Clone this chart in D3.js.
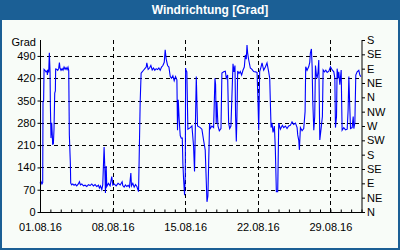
<!DOCTYPE html>
<html>
<head>
<meta charset="utf-8">
<script src="https://cdn.jsdelivr.net/npm/d3@7"></script>
<style>
  body { margin: 0; background: #fff; }
  svg text { font-family: "Liberation Sans", Arial, sans-serif; }
</style>
</head>
<body>
<script>
// decimal days after 01.08.16 00:00 and wind direction in degrees
const days = [
  0.00, 0.10, 0.19, 0.26, 0.29, 0.35, 0.39, 0.48, 0.58, 0.68, 0.71, 0.77, 0.84, 0.90, 0.97,
  1.00, 1.06, 1.13, 1.19, 1.22, 1.29, 1.35, 1.42, 1.48, 1.51, 1.61, 1.71, 1.80, 1.87, 1.93,
  2.03, 2.13, 2.22, 2.32, 2.42, 2.51, 2.61, 2.70, 2.77, 2.83, 2.93, 2.96, 3.06, 3.16, 3.28,
  3.41, 3.54, 3.70, 3.80, 3.90, 4.03, 4.19, 4.35, 4.51, 4.67, 4.83, 4.99, 5.15, 5.31, 5.47,
  5.64, 5.73, 5.83, 5.96, 6.05, 6.18, 6.25, 6.31, 6.38, 6.44, 6.60, 6.76, 6.92, 7.02, 7.15,
  7.34, 7.53, 7.73, 7.92, 7.98, 8.11, 8.24, 8.37, 8.50, 8.63, 8.76, 8.82, 8.95, 9.08, 9.21,
  9.34, 9.50, 9.56, 9.66, 9.75, 9.85, 9.98, 10.11, 10.24, 10.30, 10.43, 10.56, 10.69, 10.82,
  10.95, 11.07, 11.20, 11.33, 11.46, 11.59, 11.72, 11.85, 11.98, 12.07, 12.17, 12.30, 12.43,
  12.56, 12.68, 12.81, 12.94, 13.07, 13.20, 13.26, 13.33, 13.42, 13.52, 13.62, 13.72, 13.78,
  13.84, 13.94, 14.01, 14.04, 14.07, 14.16, 14.26, 14.49, 14.65, 14.81, 14.90, 15.07, 15.19,
  15.45, 15.61, 15.77, 15.93, 16.10, 16.19, 16.26, 16.35, 16.42, 16.58, 16.74, 16.87, 16.93,
  16.99, 17.06, 17.16, 17.29, 17.45, 17.54, 17.71, 17.87, 17.96, 18.09, 18.19, 18.29, 18.41,
  18.61, 18.70, 18.80, 18.86, 18.93, 18.99, 19.06, 19.19, 19.31, 19.44, 19.57, 19.70, 19.80,
  19.89, 19.96, 20.02, 20.12, 20.28, 20.44, 20.60, 20.77, 20.93, 21.02, 21.09, 21.18, 21.31,
  21.41, 21.57, 21.73, 21.89, 22.05, 22.15, 22.21, 22.28, 22.37, 22.47, 22.60, 22.69, 22.79,
  22.92, 23.02, 23.18, 23.37, 23.50, 23.66, 23.82, 23.98, 24.14, 24.30, 24.46, 24.63, 24.79,
  24.85, 24.95, 25.01, 25.11, 25.27, 25.43, 25.56, 25.62, 25.75, 25.91, 26.01, 26.07, 26.17,
  26.24, 26.30, 26.40, 26.49, 26.56, 26.65, 26.72, 26.81, 26.88, 26.98, 27.11, 27.23, 27.30,
  27.43, 27.56, 27.69, 27.85, 28.01, 28.17, 28.33, 28.43, 28.49, 28.59, 28.65, 28.75, 28.81,
  28.91, 29.04, 29.13, 29.29, 29.46, 29.62, 29.71, 29.78, 29.87, 29.94, 30.10, 30.20, 30.26,
  30.36, 30.45, 30.58, 30.74, 30.84, 30.94
];
const deg = [
  90, 95, 88, 92, 346, 350, 448, 445, 440, 443, 430, 447, 438, 500, 440,
  336, 232, 280, 240, 213, 214, 260, 373, 380, 449, 448, 445, 450, 469, 452,
  445, 450, 445, 455, 448, 453, 447, 455, 445, 242, 150, 91, 85, 88, 84,
  87, 82, 88, 95, 85, 88, 82, 84, 80, 86, 83, 88, 82, 86, 80,
  84, 75, 82, 70, 85, 204, 140, 60, 144, 80, 90, 82, 111, 85, 88,
  82, 90, 85, 95, 83, 78, 85, 80, 84, 78, 122, 82, 90, 78, 86,
  80, 64, 163, 346, 436, 440, 445, 450, 455, 468, 448, 452, 460, 446,
  452, 445, 450, 447, 452, 445, 455, 460, 470, 509, 480, 460, 455,
  425, 420, 428, 412, 425, 415, 257, 352, 290, 240, 232, 232, 150,
  107, 53, 120, 452, 446, 440, 260, 265, 270, 205, 127, 425, 270,
  265, 260, 226, 195, 32, 50, 148, 279, 262, 270, 265, 420, 400,
  279, 346, 270, 255, 262, 436, 440, 442, 420, 430, 279, 262, 270,
  465, 440, 460, 300, 221, 300, 443, 435, 441, 430, 445, 455, 493,
  480, 524, 500, 478, 452, 448, 441, 440, 438, 346, 257, 441, 455,
  468, 445, 455, 468, 440, 420, 346, 265, 280, 250, 270, 200, 64,
  64, 279, 260, 272, 265, 270, 262, 270, 272, 283, 275, 279, 265,
  242, 225, 195, 265, 255, 262, 315, 456, 445, 456, 470, 499, 512,
  456, 350, 257, 300, 460, 430, 420, 440, 477, 226, 264, 300, 446,
  440, 445, 438, 442, 456, 446, 440, 420, 265, 300, 450, 420, 440,
  400, 446, 257, 265, 258, 260, 320, 425, 330, 262, 265, 300, 262,
  280, 430, 440, 445, 430, 425
];
const gradTicks = [0, 70, 140, 210, 280, 350, 420, 490];
const compassLabels = ["N", "NE", "E", "SE", "S", "SW", "W", "NW", "N", "NE", "E", "SE", "S"];
const dateLabels = ["01.08.16", "08.08.16", "15.08.16", "22.08.16", "29.08.16"];

const W = 400, H = 250;
const plotL = 40, plotR = 361.5, plotT = 40, plotB = 212;
const start = new Date(2016, 7, 1), end = new Date(2016, 8, 1);
const parse = d3.timeParse("%d.%m.%y");
const fmt = d3.timeFormat("%d.%m.%y");

const svg = d3.select("body").append("svg")
  .attr("width", W)
  .attr("height", H);

// frame with title bar
svg.append("rect").attr("width", W).attr("height", H).attr("fill", "#1b5f95");
svg.append("rect")
  .attr("x", 2).attr("y", 20)
  .attr("width", W - 4).attr("height", H - 22)
  .attr("fill", "#f8fcf8");
svg.append("text")
  .attr("x", 210).attr("y", 14)
  .attr("text-anchor", "middle")
  .attr("fill", "#fff")
  .attr("font-size", 12)
  .attr("font-weight", "bold")
  .text("Windrichtung [Grad]");

const x = d3.scaleTime().domain([start, end]).range([plotL, plotR]);
const y = d3.scaleLinear().domain([0, 540]).range([plotB, plotT]);

// dashed grid
svg.append("g").selectAll("line")
  .data(gradTicks.slice(1))
  .join("line")
  .attr("x1", plotL).attr("x2", plotR)
  .attr("y1", d => Math.round(y(d)) + 0.5).attr("y2", d => Math.round(y(d)) + 0.5)
  .attr("stroke", "#000").attr("stroke-dasharray", "4,3");

svg.append("g").selectAll("line")
  .data(dateLabels.slice(1).map(parse))
  .join("line")
  .attr("x1", d => Math.round(x(d)) + 0.5).attr("x2", d => Math.round(x(d)) + 0.5)
  .attr("y1", plotT).attr("y2", plotB)
  .attr("stroke", "#000").attr("stroke-dasharray", "4,3");

// data line
const series = days.map((d, i) => ({ t: new Date(+start + d * 864e5), v: deg[i] }));
svg.append("path")
  .datum(series)
  .attr("fill", "none")
  .attr("stroke", "#0000ff")
  .attr("stroke-width", 1.1)
  .attr("d", d3.line().x(d => x(d.t)).y(d => y(d.v)));

// left axis
const yAxis = svg.append("g")
  .attr("transform", `translate(${plotL + 0.5},0)`)
  .call(d3.axisLeft(y).tickValues(gradTicks).tickSize(3).tickSizeOuter(0).tickPadding(2));
yAxis.select(".domain").attr("d", `M0,${plotT}V${plotB + 0.5}`);

// right compass axis
const yRight = d3.scaleLinear().domain([0, 540]).range([plotB, plotT]);
const rAxis = svg.append("g")
  .attr("transform", `translate(${plotR + 0.5},0)`)
  .call(d3.axisRight(yRight)
    .tickValues(d3.range(0, 541, 45))
    .tickFormat((d, i) => compassLabels[i])
    .tickSize(3).tickSizeOuter(0).tickPadding(2));
rAxis.select(".domain").attr("d", `M0,${plotT}V${plotB + 0.5}`);

// bottom axis: daily ticks inward, weekly labels
const xAxis = svg.append("g")
  .attr("transform", `translate(0,${plotB + 0.5})`)
  .call(d3.axisBottom(x).ticks(d3.timeDay.every(1)).tickSize(-3).tickSizeOuter(0).tickFormat(""));
xAxis.select(".domain").attr("d", `M${plotL},0H${plotR + 3}`);

svg.append("g")
  .attr("transform", `translate(0,${plotB + 0.5})`)
  .call(d3.axisBottom(x).tickValues(dateLabels.map(parse)).tickSize(0).tickPadding(11).tickFormat(fmt))
  .call(g => g.select(".domain").remove());

svg.selectAll(".tick text")
  .attr("font-family", "Liberation Sans, Arial, sans-serif")
  .attr("font-size", 11)
  .attr("fill", "#000");
svg.selectAll(".tick line, .domain").attr("stroke", "#000");

svg.append("text")
  .attr("x", 36).attr("y", 46)
  .attr("text-anchor", "end")
  .attr("font-size", 11)
  .text("Grad");
</script>
</body>
</html>
